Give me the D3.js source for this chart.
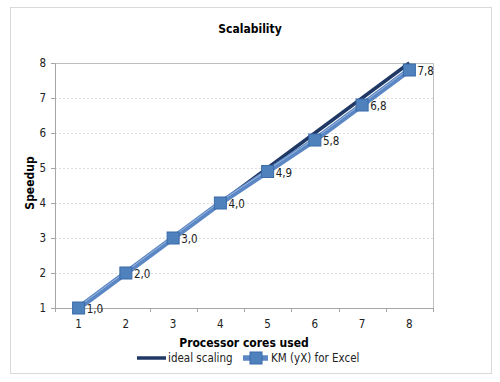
<!DOCTYPE html>
<html>
<head>
<meta charset="utf-8">
<script src="https://cdn.jsdelivr.net/npm/d3@7"></script>
<style>
  body { margin: 0; background: #fff; }
  text { font-family: "DejaVu Sans Condensed", "Liberation Sans", sans-serif; }
</style>
</head>
<body>
<script>
const cores = [1, 2, 3, 4, 5, 6, 7, 8]
const ideal = [1, 2, 3, 4, 5, 6, 7, 8]
const speedup = [1.0, 2.0, 3.0, 4.0, 4.9, 5.8, 6.8, 7.8]
const yTicks = [1, 2, 3, 4, 5, 6, 7, 8]

const width = 500, height = 382
const margin = { top: 63, right: 67, bottom: 74, left: 55 }
const innerW = width - margin.left - margin.right
const innerH = height - margin.top - margin.bottom
const font = '"DejaVu Sans Condensed", "Liberation Sans", sans-serif'

const svg = d3.select('body').append('svg')
  .attr('width', width)
  .attr('height', height)

// outer frame
svg.append('rect')
  .attr('x', 10.5).attr('y', 7.5)
  .attr('width', 481).attr('height', 366)
  .attr('fill', '#fff')
  .attr('stroke', '#d9d9d9')

svg.append('text')
  .attr('x', 250).attr('y', 33)
  .attr('text-anchor', 'middle')
  .attr('font-size', 12).attr('font-weight', 'bold')
  .text('Scalability')

const g = svg.append('g')
  .attr('transform', `translate(${margin.left}, ${margin.top})`)

const xScale = d3.scaleBand()
  .domain(cores)
  .range([0, innerW])

const yScale = d3.scaleLinear()
  .domain([1, 8])
  .range([innerH, 0])

const cx = d => xScale(d) + xScale.bandwidth() / 2

// gridlines
g.selectAll('.grid')
  .data(yTicks.filter(d => d > 1 && d < 8))
  .enter().append('line')
  .attr('class', 'grid')
  .attr('x1', 0).attr('x2', innerW)
  .attr('y1', d => Math.round(yScale(d)) + 0.5)
  .attr('y2', d => Math.round(yScale(d)) + 0.5)
  .attr('stroke', '#dcdcdc')
  .attr('stroke-dasharray', '2,2')

// plot border
g.append('rect')
  .attr('x', 0.5).attr('y', 0.5)
  .attr('width', innerW).attr('height', innerH)
  .attr('fill', 'none')
  .attr('stroke', '#bfbfbf')

// y axis
const yAxis = g.append('g')
  .call(d3.axisLeft(yScale).tickValues(yTicks).tickFormat(d3.format('d')).tickSize(4).tickPadding(5))
yAxis.select('.domain').attr('stroke', '#a6a6a6')
yAxis.selectAll('line').attr('stroke', '#a6a6a6')
yAxis.selectAll('text').attr('font-size', 11.5).attr('fill', '#222')
  .style('font-family', font)

// x axis with ticks between categories
const xAxis = g.append('g')
  .attr('transform', `translate(0, ${innerH})`)
  .call(d3.axisBottom(xScale).tickSize(0).tickPadding(12))
xAxis.select('.domain').attr('stroke', '#a6a6a6')
xAxis.selectAll('text').attr('font-size', 11.5).attr('fill', '#222')
  .style('font-family', font)
g.selectAll('.xtick')
  .data(cores.concat([9]))
  .enter().append('line')
  .attr('class', 'xtick')
  .attr('x1', d => Math.round(d > 8 ? innerW : xScale(d)) + 0.5)
  .attr('x2', d => Math.round(d > 8 ? innerW : xScale(d)) + 0.5)
  .attr('y1', innerH).attr('y2', innerH + 4)
  .attr('stroke', '#a6a6a6')

// axis titles
svg.append('text')
  .attr('x', 244).attr('y', 347)
  .attr('text-anchor', 'middle')
  .attr('font-size', 12).attr('font-weight', 'bold')
  .text('Processor cores used')

svg.append('text')
  .attr('transform', `translate(34, 183) rotate(-90)`)
  .attr('text-anchor', 'middle')
  .attr('font-size', 12).attr('font-weight', 'bold')
  .text('Speedup')

const line = d3.line()
  .x((d, i) => cx(cores[i]))
  .y(d => yScale(d))

// ideal scaling
g.append('path')
  .datum(ideal)
  .attr('fill', 'none')
  .attr('stroke', '#1f3864')
  .attr('stroke-width', 3.5)
  .attr('d', line)

// measured speedup
g.append('path')
  .datum(speedup)
  .attr('fill', 'none')
  .attr('stroke', '#5b87c5')
  .attr('stroke-width', 5.5)
  .attr('d', line)

g.append('path')
  .datum(speedup)
  .attr('fill', 'none')
  .attr('stroke', '#9bb7dd')
  .attr('stroke-width', 1)
  .attr('transform', 'translate(0,-1.5)')
  .attr('d', line)

g.selectAll('.marker')
  .data(speedup)
  .enter().append('rect')
  .attr('class', 'marker')
  .attr('x', (d, i) => cx(cores[i]) - 6)
  .attr('y', d => yScale(d) - 6)
  .attr('width', 12).attr('height', 12)
  .attr('fill', '#4f81bd')
  .attr('stroke', '#3a6aa8')
  .attr('stroke-width', 1)

g.selectAll('.label')
  .data(speedup)
  .enter().append('text')
  .attr('class', 'label')
  .attr('x', (d, i) => cx(cores[i]) + 8)
  .attr('y', d => yScale(d) + 5)
  .attr('font-size', 11.5)
  .attr('fill', '#222')
  .text(d => d.toFixed(1).replace('.', ','))

// legend
const legend = svg.append('g').attr('transform', 'translate(0, 358)')
legend.append('line')
  .attr('x1', 137).attr('x2', 166)
  .attr('y1', 0).attr('y2', 0)
  .attr('stroke', '#1f3864').attr('stroke-width', 3.5)
legend.append('text')
  .attr('x', 168).attr('y', 4)
  .attr('font-size', 11.5).attr('fill', '#222')
  .text('ideal scaling')
legend.append('line')
  .attr('x1', 243).attr('x2', 268)
  .attr('y1', 0).attr('y2', 0)
  .attr('stroke', '#5b87c5').attr('stroke-width', 5.5)
legend.append('rect')
  .attr('x', 250).attr('y', -6)
  .attr('width', 12).attr('height', 12)
  .attr('fill', '#4f81bd').attr('stroke', '#3a6aa8')
legend.append('text')
  .attr('x', 271).attr('y', 4)
  .attr('font-size', 11.5).attr('fill', '#222')
  .text('KM (yX) for Excel')
</script>
</body>
</html>
